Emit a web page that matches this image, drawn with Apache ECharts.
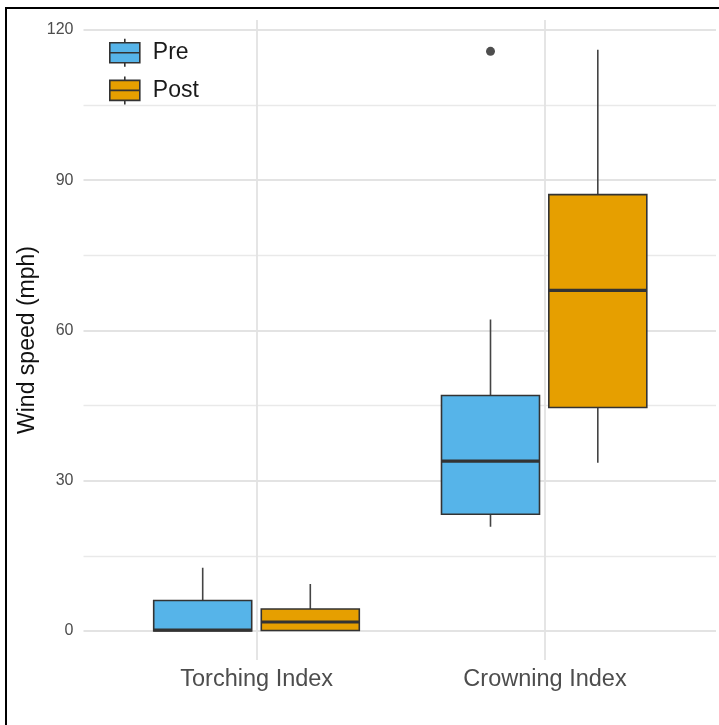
<!DOCTYPE html>
<html>
<head>
<meta charset="utf-8">
<script src="https://cdn.jsdelivr.net/npm/echarts@6/dist/echarts.min.js"></script>
<style>
html,body{margin:0;padding:0;background:#fff;}
#wrap{position:relative;width:719px;height:725px;}
#chart{width:719px;height:725px;}
#frame{position:absolute;left:5px;top:7px;right:0;bottom:0;border-top:2px solid #000;border-left:2px solid #000;pointer-events:none;}
</style>
</head>
<body>
<div id="wrap"><div id="chart"></div><div id="frame"></div></div>
<script>
// ---- data ----
const categories = ['Torching Index', 'Crowning Index'];
const seriesNames = ['Pre', 'Post'];
const preMin    = [0.0, 20.8];
const preQ1     = [0.0, 23.3];
const preMedian = [0.2, 33.9];
const preQ3     = [6.1, 47.0];
const preMax    = [12.6, 62.2];
const postMin    = [0.0, 33.6];
const postQ1     = [0.1, 44.6];
const postMedian = [1.8, 68.0];
const postQ3     = [4.4, 87.1];
const postMax    = [9.4, 116.0];
const preOutliers = [['Crowning Index', 115.7]];
const yTicks = [0, 30, 60, 90, 120];

const FONT = 'Liberation Sans, Arial, Helvetica, sans-serif';
const colors = ['#56B4E9', '#E69F00'];
const EDGE = '#333333';
const legendIcon = 'path://M0,4H30V24H0Z M0,14H30 M15,0V4 M15,24V28';

const whiskerData = (mn, mx, q1, q3, md) => categories.map((c,i)=>[mn[i], q1[i], md[i], q3[i], mx[i]]);
const boxData = (q1, md, q3) => categories.map((c,i)=>[q1[i], q1[i], md[i], q3[i], q3[i]]);
const medData = (md) => categories.map((c,i)=>[md[i], md[i], md[i], md[i], md[i]]);

const hiddenCat = (grid) => ({
  type:'category', gridIndex:grid, data:categories, boundaryGap:false,
  show:false, axisLine:{show:false}, axisTick:{show:false}, axisLabel:{show:false}, splitLine:{show:false}
});
const hiddenVal = (grid) => ({
  type:'value', gridIndex:grid, min:0, max:120, show:false, splitLine:{show:false}
});

const gridGeom = {top:29.8, bottom:94};
const chart = echarts.init(document.getElementById('chart'), null, {renderer:'canvas'});

function boxSeries(name, xi, yi, data, width, style, z){
  return {
    name:name, type:'boxplot', xAxisIndex:xi, yAxisIndex:yi, data:data,
    boxWidth:[width, width], z:z, silent:true,
    itemStyle:style, emphasis:{disabled:true}
  };
}

const option = {
  animation:false,
  textStyle:{fontFamily:FONT},
  grid:[
    {left:83.5, right:3, top:gridGeom.top, bottom:gridGeom.bottom, outerBoundsMode:'none'},
    {left:256.7, right:174, top:20, bottom:65, outerBoundsMode:'none'},
    {left:202.7, right:228.5, top:gridGeom.top, bottom:gridGeom.bottom, outerBoundsMode:'none'},
    {left:310.3, right:121.2, top:gridGeom.top, bottom:gridGeom.bottom, outerBoundsMode:'none'}
  ],
  xAxis:[
    {type:'value', gridIndex:0, min:0, max:1, show:false},
    {type:'category', gridIndex:1, data:categories, boundaryGap:false,
      axisLine:{show:false}, axisTick:{show:false},
      axisLabel:{show:true, color:'#4d4d4d', fontSize:23.5, margin:8, fontFamily:FONT},
      splitLine:{show:true, lineStyle:{color:'#e3e3e3', width:1.8}}},
    hiddenCat(2), hiddenCat(2), hiddenCat(2),
    hiddenCat(3), hiddenCat(3), hiddenCat(3)
  ],
  yAxis:[
    {type:'value', gridIndex:0, min:0, max:120, interval:30,
      axisLine:{show:false}, axisTick:{show:false},
      axisLabel:{color:'#4d4d4d', fontSize:16, margin:10, fontFamily:FONT,
        formatter:(v)=> yTicks.indexOf(v) >= 0 ? String(v) : ''},
      splitLine:{show:true, lineStyle:{color:'#e3e3e3', width:1.8}},
      minorTick:{show:false, splitNumber:2},
      minorSplitLine:{show:true, lineStyle:{color:'#e9e9e9', width:1.3}}},
    {type:'value', gridIndex:1, min:0, max:1, show:false, splitLine:{show:false}},
    hiddenVal(2), hiddenVal(3)
  ],
  legend:{
    orient:'vertical', left:109, top:38, padding:0, itemWidth:30, itemHeight:28, itemGap:8,
    selectedMode:false,
    textStyle:{fontSize:23, color:'#1a1a1a', fontFamily:FONT, padding:[0,0,0,8]},
    data:[
      {name:'Pre', icon:legendIcon, itemStyle:{color:colors[0], borderColor:EDGE, borderWidth:1.6}},
      {name:'Post', icon:legendIcon, itemStyle:{color:colors[1], borderColor:EDGE, borderWidth:1.6}}
    ]
  },
  graphic:[
    {type:'text', x:28, y:340, rotation:Math.PI/2,
      style:{text:'Wind speed (mph)', fill:'#111', fontSize:23, fontFamily:FONT,
        textAlign:'center', textVerticalAlign:'middle'}}
  ],
  series:[
    boxSeries('Pre whisker', 2, 2, whiskerData(preMin, preMax, preQ1, preQ3, preMedian), 0,
      {color:'rgba(0,0,0,0)', borderColor:'#444', borderWidth:1.6}, 2),
    boxSeries('Pre', 3, 2, boxData(preQ1, preMedian, preQ3), 98,
      {color:colors[0], borderColor:EDGE, borderWidth:1.6}, 3),
    boxSeries('Pre median', 4, 2, medData(preMedian), 98,
      {color:'rgba(0,0,0,0)', borderColor:EDGE, borderWidth:3.2}, 4),
    boxSeries('Post whisker', 5, 3, whiskerData(postMin, postMax, postQ1, postQ3, postMedian), 0,
      {color:'rgba(0,0,0,0)', borderColor:'#444', borderWidth:1.6}, 2),
    boxSeries('Post', 6, 3, boxData(postQ1, postMedian, postQ3), 98,
      {color:colors[1], borderColor:EDGE, borderWidth:1.6}, 3),
    boxSeries('Post median', 7, 3, medData(postMedian), 98,
      {color:'rgba(0,0,0,0)', borderColor:EDGE, borderWidth:3.2}, 4),
    {name:'Pre outlier', type:'scatter', xAxisIndex:2, yAxisIndex:2, data:preOutliers,
      symbol:'circle', symbolSize:9, itemStyle:{color:'#222'}, silent:true, z:5}
  ]
};
chart.setOption(option);
</script>
</body>
</html>
